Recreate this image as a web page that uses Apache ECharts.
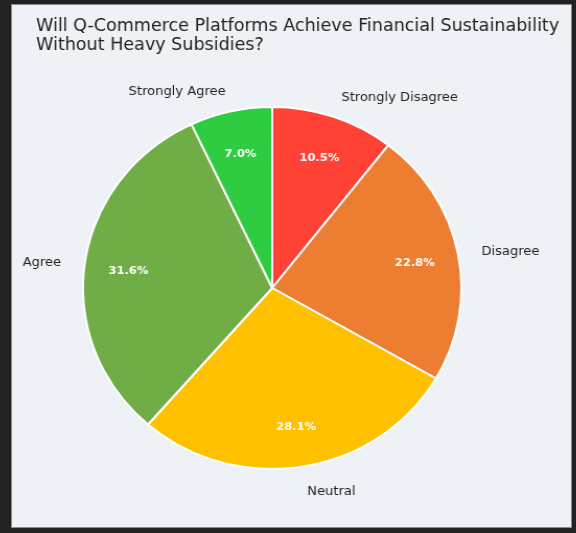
<!DOCTYPE html>
<html>
<head>
<meta charset="utf-8">
<script src="https://cdn.jsdelivr.net/npm/echarts@6/dist/echarts.min.js"></script>
<style>
  html, body { margin: 0; padding: 0; width: 576px; height: 533px; background: #222222; overflow: hidden; }
  #frame { position: absolute; left: 11px; top: 4px; width: 561px; height: 524px; box-sizing: border-box; border: 1px solid #8a8a8a; overflow: hidden; background: #eef2f7; }
  /* the figure is drawn slightly wider than tall */
  #chart { width: 535px; height: 522px; transform: scaleX(1.045); transform-origin: 0 0; }
</style>
</head>
<body>
<div id="frame"><div id="chart"></div></div>
<script>
// Survey responses (counts), listed clockwise from 12 o'clock
const categories = ['Strongly Disagree', 'Disagree', 'Neutral', 'Agree', 'Strongly Agree'];
const counts = [6, 13, 16, 18, 4];
const colors = ['#ff4136', '#ed7d31', '#ffc000', '#70ad47', '#2ecc40'];
const titleText = 'Will Q-Commerce Platforms Achieve Financial Sustainability\nWithout Heavy Subsidies?';

const total = counts.reduce((a, b) => a + b, 0);
const pieData = categories.map((name, i) => ({ name, value: counts[i], itemStyle: { color: colors[i] } }));

const center = [249, 283];
const R = 181;

const chart = echarts.init(document.getElementById('chart'), null, { renderer: 'canvas' });
chart.setOption({
  backgroundColor: '#eef2f7',
  animation: false,
  title: {
    text: titleText,
    left: 23,
    top: 11.5,
    padding: 0,
    textStyle: { fontFamily: 'DejaVu Sans', fontSize: 16.8, fontWeight: 'normal', color: '#222222', lineHeight: 19.5 }
  },
  series: [
    {
      // slices with category names outside
      type: 'pie',
      center: center,
      radius: [0, R],
      startAngle: 90,
      clockwise: true,
      avoidLabelOverlap: false,
      data: pieData,
      itemStyle: { borderColor: '#ffffff', borderWidth: 2 },
      label: {
        show: true,
        position: 'outside',
        fontFamily: 'DejaVu Sans',
        fontSize: 12.5,
        color: '#222222',
        distanceToLabelLine: 0,
        offset: [0, 2.5]
      },
      labelLine: { show: false, length: 23, length2: 0 },
      emphasis: { disabled: true }
    },
    {
      // percentage labels drawn inside each slice
      type: 'pie',
      center: center,
      radius: [91, R],
      startAngle: 90,
      clockwise: true,
      silent: true,
      data: pieData.map(d => ({ name: d.name, value: d.value, itemStyle: { color: 'rgba(0,0,0,0)' } })),
      itemStyle: { borderWidth: 0 },
      label: {
        show: true,
        position: 'inside',
        formatter: p => (p.value / total * 100).toFixed(1) + '%',
        fontFamily: 'DejaVu Sans',
        fontSize: 11,
        fontWeight: 'bold',
        color: '#ffffff',
        offset: [0, 2]
      },
      labelLine: { show: false },
      emphasis: { disabled: true }
    }
  ]
});
</script>
</body>
</html>
